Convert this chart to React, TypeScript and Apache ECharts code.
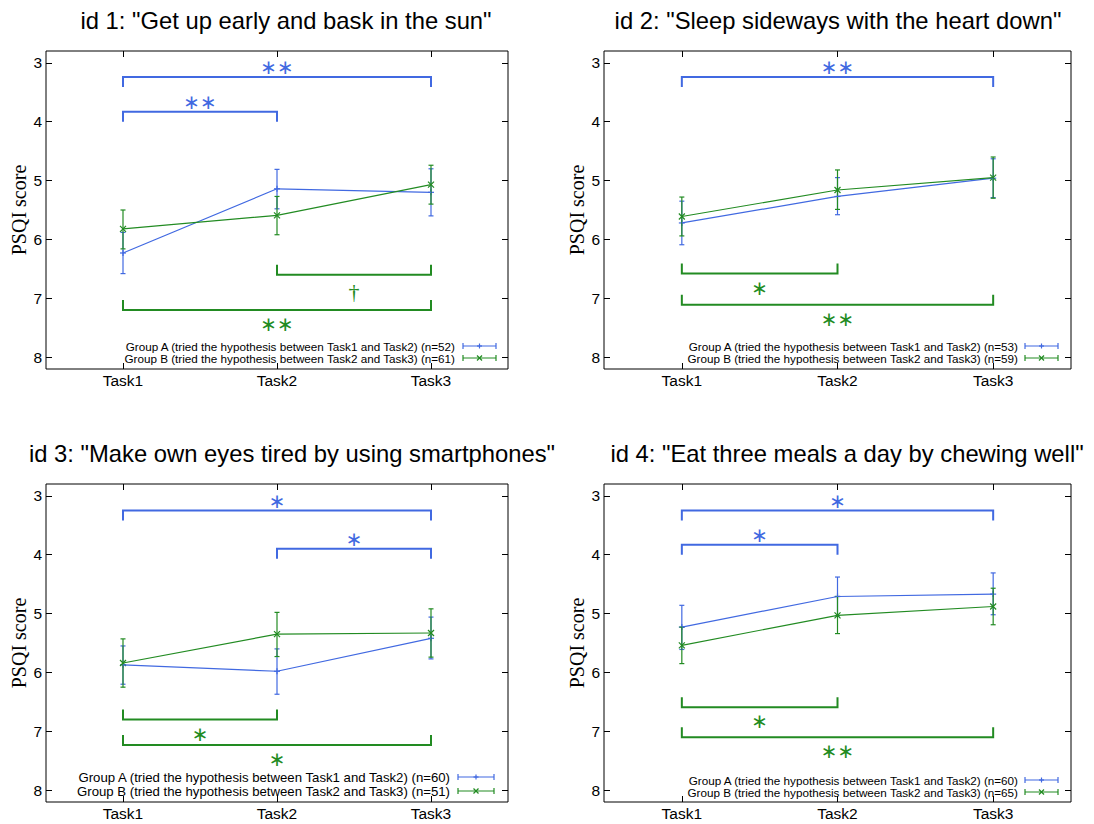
import React, { useEffect, useRef } from "react";
import * as echarts from "echarts";

const TASKS = ["Task1", "Task2", "Task3"];
const Y_TICKS = [3, 4, 5, 6, 7, 8];

const TITLES = [
  'id 1: "Get up early and bask in the sun"',
  'id 2: "Sleep sideways with the heart down"',
  'id 3: "Make own eyes tired by using smartphones"',
  'id 4: "Eat three meals a day by chewing well"',
];

const N_A = [52, 53, 60, 60];
const N_B = [61, 59, 51, 65];

// Group A means / lower / upper error bounds (PSQI), per panel, Task1..Task3
const A_MEAN = [
  [6.23, 5.14, 5.2],
  [5.72, 5.27, 4.96],
  [5.87, 5.98, 5.42],
  [5.23, 4.71, 4.67],
];
const A_LOW = [
  [5.88, 4.81, 4.8],
  [5.35, 4.95, 4.63],
  [5.55, 5.6, 5.06],
  [4.86, 4.38, 4.31],
];
const A_HIGH = [
  [6.58, 5.48, 5.6],
  [6.09, 5.58, 5.29],
  [6.2, 6.37, 5.77],
  [5.61, 5.04, 5.02],
];
// Group B
const B_MEAN = [
  [5.82, 5.59, 5.07],
  [5.61, 5.16, 4.95],
  [5.84, 5.35, 5.33],
  [5.54, 5.03, 4.88],
];
const B_LOW = [
  [5.5, 5.27, 4.74],
  [5.28, 4.82, 4.6],
  [5.43, 4.98, 4.92],
  [5.23, 4.71, 4.57],
];
const B_HIGH = [
  [6.16, 5.92, 5.4],
  [5.94, 5.49, 5.3],
  [6.25, 5.73, 5.74],
  [5.85, 5.34, 5.19],
];

// significance brackets: group, from task, to task, level (PSQI), mark
const BRACKETS_1 = [
  { group: "A", from: 1, to: 3, level: 3.24, mark: "∗∗" },
  { group: "A", from: 1, to: 2, level: 3.83, mark: "∗∗" },
  { group: "B", from: 2, to: 3, level: 6.6, mark: "†" },
  { group: "B", from: 1, to: 3, level: 7.2, mark: "∗∗" },
];
const BRACKETS_2 = [
  { group: "A", from: 1, to: 3, level: 3.24, mark: "∗∗" },
  { group: "B", from: 1, to: 2, level: 6.58, mark: "∗" },
  { group: "B", from: 1, to: 3, level: 7.11, mark: "∗∗" },
];
const BRACKETS_3 = [
  { group: "A", from: 1, to: 3, level: 3.25, mark: "∗" },
  { group: "A", from: 2, to: 3, level: 3.9, mark: "∗" },
  { group: "B", from: 1, to: 2, level: 6.8, mark: "∗" },
  { group: "B", from: 1, to: 3, level: 7.23, mark: "∗" },
];
const BRACKETS_4 = [
  { group: "A", from: 1, to: 3, level: 3.25, mark: "∗" },
  { group: "A", from: 1, to: 2, level: 3.83, mark: "∗" },
  { group: "B", from: 1, to: 2, level: 6.59, mark: "∗" },
  { group: "B", from: 1, to: 3, level: 7.1, mark: "∗∗" },
];
const BRACKETS = [BRACKETS_1, BRACKETS_2, BRACKETS_3, BRACKETS_4];

const BLUE = "#4169e1";
const GREEN = "#228b22";
const SANS = '"Liberation Sans", Arial, sans-serif';
const SERIF = '"Liberation Serif", "Times New Roman", serif';
const STAR_FONT = '"DejaVu Sans", sans-serif';

const GRIDS = [
  { left: 46, top: 51, width: 462, height: 318 },
  { left: 604, top: 51, width: 467, height: 318 },
  { left: 46, top: 484, width: 462, height: 318 },
  { left: 604, top: 484, width: 467, height: 318 },
];
const TITLE_POS = [
  [286, 20],
  [838, 20],
  [292, 453],
  [847, 453],
];
const LEGEND_POS = [
  { right: 455, y1: 346, y2: 358, sx1: 463, sx2: 496, fs: 11.7 },
  { right: 1018, y1: 346, y2: 358, sx1: 1025, sx2: 1058, fs: 11.7 },
  { right: 450, y1: 777, y2: 791, sx1: 458, sx2: 494, fs: 13.2 },
  { right: 1018, y1: 780, y2: 792, sx1: 1025, sx2: 1058, fs: 11.7 },
];

function legendName(g: string, p: number) {
  return g === "A"
    ? `Group A (tried the hypothesis between Task1 and Task2) (n=${N_A[p]})`
    : `Group B (tried the hypothesis between Task2 and Task3) (n=${N_B[p]})`;
}

function markerShapes(kind: string, cx: number, cy: number, color: string, s: number) {
  const st = { stroke: color, lineWidth: 1.2 };
  if (kind === "plus") {
    return [
      { type: "line", shape: { x1: cx - s, y1: cy, x2: cx + s, y2: cy }, style: st },
      { type: "line", shape: { x1: cx, y1: cy - s, x2: cx, y2: cy + s }, style: st },
    ];
  }
  return [
    { type: "line", shape: { x1: cx - s, y1: cy - s, x2: cx + s, y2: cy + s }, style: st },
    { type: "line", shape: { x1: cx - s, y1: cy + s, x2: cx + s, y2: cy - s }, style: st },
  ];
}

function errRender(color: string, kind: string) {
  return (params: any, api: any) => {
    const x = api.value(0);
    const pm = api.coord([x, api.value(1)]);
    const pl = api.coord([x, api.value(2)]);
    const ph = api.coord([x, api.value(3)]);
    const c = 2.5;
    const st = { stroke: color, lineWidth: 1.2 };
    return {
      type: "group",
      children: [
        { type: "line", shape: { x1: pl[0], y1: pl[1], x2: ph[0], y2: ph[1] }, style: st },
        { type: "line", shape: { x1: pl[0] - c, y1: pl[1], x2: pl[0] + c, y2: pl[1] }, style: st },
        { type: "line", shape: { x1: ph[0] - c, y1: ph[1], x2: ph[0] + c, y2: ph[1] }, style: st },
        ...markerShapes(kind, pm[0], pm[1], color, 3),
      ],
    };
  };
}

function bracketRender(list: any[]) {
  return (params: any, api: any) => {
    const b = list[params.dataIndex];
    const p1 = api.coord([api.value(0), api.value(2)]);
    const p2 = api.coord([api.value(1), api.value(2)]);
    const isA = b.group === "A";
    const color = isA ? BLUE : GREEN;
    const dir = isA ? 1 : -1;
    const tick = 10;
    const isDagger = b.mark === "†";
    const off = isA ? -10 : isDagger ? 17 : 14;
    return {
      type: "group",
      children: [
        {
          type: "polyline",
          shape: {
            points: [
              [p1[0], p1[1] + dir * tick],
              [p1[0], p1[1]],
              [p2[0], p2[1]],
              [p2[0], p2[1] + dir * tick],
            ],
          },
          style: { stroke: color, lineWidth: 2, fill: "none" },
        },
        {
          type: "text",
          x: (p1[0] + p2[0]) / 2,
          y: p1[1] + off,
          style: {
            text: b.mark,
            fill: color,
            fontSize: isDagger ? 22 : 20,
            fontFamily: isDagger ? SERIF : STAR_FONT,
            align: "center",
            verticalAlign: "middle",
          },
        },
      ],
    };
  };
}

function buildOption() {
  const grid: any[] = [];
  const xAxis: any[] = [];
  const yAxis: any[] = [];
  const series: any[] = [];
  const graphic: any[] = [];

  for (let p = 0; p < 4; p++) {
    grid.push({ ...GRIDS[p], show: true, borderColor: "#000", borderWidth: 1, backgroundColor: "transparent" });
    const xBase = {
      type: "value",
      gridIndex: p,
      min: 0.5,
      max: 3.5,
      splitLine: { show: false },
      axisLine: { show: false },
      axisTick: { show: true, inside: true, length: 6, customValues: [1, 2, 3], lineStyle: { color: "#000" } },
    };
    xAxis.push({
      ...xBase,
      position: "bottom",
      axisLabel: {
        show: true,
        customValues: [1, 2, 3],
        formatter: (v: number) => TASKS[Math.round(v) - 1] || "",
        color: "#000",
        fontSize: 15.5,
        fontFamily: SANS,
        margin: 3,
      },
    });
    xAxis.push({ ...xBase, position: "top", axisLabel: { show: false } });
    const yBase = {
      type: "value",
      gridIndex: p,
      inverse: true,
      min: 2.8,
      max: 8.2,
      splitLine: { show: false },
      axisLine: { show: false },
      axisTick: { show: true, inside: true, length: 6, customValues: Y_TICKS, lineStyle: { color: "#000" } },
    };
    yAxis.push({
      ...yBase,
      position: "left",
      name: "PSQI score",
      nameLocation: "middle",
      nameRotate: 90,
      nameGap: 17,
      nameTextStyle: { fontFamily: SERIF, fontSize: 20, color: "#000" },
      axisLabel: {
        show: true,
        customValues: Y_TICKS,
        color: "#000",
        fontSize: 15.5,
        fontFamily: SANS,
        margin: 4,
      },
    });
    yAxis.push({ ...yBase, position: "right", axisLabel: { show: false } });

    const xi = 2 * p;
    const yi = 2 * p;
    const groups = [
      { g: "A", mean: A_MEAN[p], low: A_LOW[p], high: A_HIGH[p], color: BLUE, kind: "plus" },
      { g: "B", mean: B_MEAN[p], low: B_LOW[p], high: B_HIGH[p], color: GREEN, kind: "cross" },
    ];
    for (const gr of groups) {
      series.push({
        type: "line",
        name: legendName(gr.g, p),
        xAxisIndex: xi,
        yAxisIndex: yi,
        data: gr.mean.map((m, i) => [i + 1, m]),
        symbol: "none",
        lineStyle: { color: gr.color, width: 1.2 },
        itemStyle: { color: gr.color },
        z: 3,
      });
      series.push({
        type: "custom",
        name: legendName(gr.g, p) + " err",
        xAxisIndex: xi,
        yAxisIndex: yi,
        data: gr.mean.map((m, i) => [i + 1, m, gr.low[i], gr.high[i]]),
        renderItem: errRender(gr.color, gr.kind),
        z: 3,
      });
    }
    series.push({
      type: "custom",
      name: "brackets " + (p + 1),
      xAxisIndex: xi,
      yAxisIndex: yi,
      data: BRACKETS[p].map((b) => [b.from, b.to, b.level]),
      renderItem: bracketRender(BRACKETS[p]),
      z: 4,
    });

    // title
    graphic.push({
      type: "text",
      x: TITLE_POS[p][0],
      y: TITLE_POS[p][1],
      style: {
        text: TITLES[p],
        fontSize: 23.8,
        fontFamily: SANS,
        fill: "#000",
        align: "center",
        verticalAlign: "middle",
      },
    });
    // legend
    const L = LEGEND_POS[p];
    const rows = [
      { y: L.y1, g: "A", color: BLUE, kind: "plus" },
      { y: L.y2, g: "B", color: GREEN, kind: "cross" },
    ];
    for (const r of rows) {
      graphic.push({
        type: "text",
        x: L.right,
        y: r.y,
        style: {
          text: legendName(r.g, p),
          fontSize: L.fs,
          fontFamily: SANS,
          fill: "#000",
          align: "right",
          verticalAlign: "middle",
        },
      });
      const st = { stroke: r.color, lineWidth: 1.2 };
      const mid = (L.sx1 + L.sx2) / 2;
      graphic.push({
        type: "group",
        children: [
          { type: "line", shape: { x1: L.sx1, y1: r.y, x2: L.sx2, y2: r.y }, style: st },
          { type: "line", shape: { x1: L.sx1, y1: r.y - 3, x2: L.sx1, y2: r.y + 3 }, style: st },
          { type: "line", shape: { x1: L.sx2, y1: r.y - 3, x2: L.sx2, y2: r.y + 3 }, style: st },
          ...markerShapes(r.kind, mid, r.y, r.color, 2.5),
        ],
      });
    }
  }

  return {
    animation: false,
    backgroundColor: "#fff",
    grid,
    xAxis,
    yAxis,
    series,
    graphic,
  };
}

export default function App() {
  const ref = useRef<HTMLDivElement>(null);
  useEffect(() => {
    if (!ref.current) return;
    const chart = echarts.init(ref.current, undefined, { renderer: "svg" });
    chart.setOption(buildOption() as any);
    return () => chart.dispose();
  }, []);
  return (
    <div
      ref={ref}
      style={{ position: "fixed", left: 0, top: 0, width: 1094, height: 824, background: "#fff" }}
    />
  );
}
